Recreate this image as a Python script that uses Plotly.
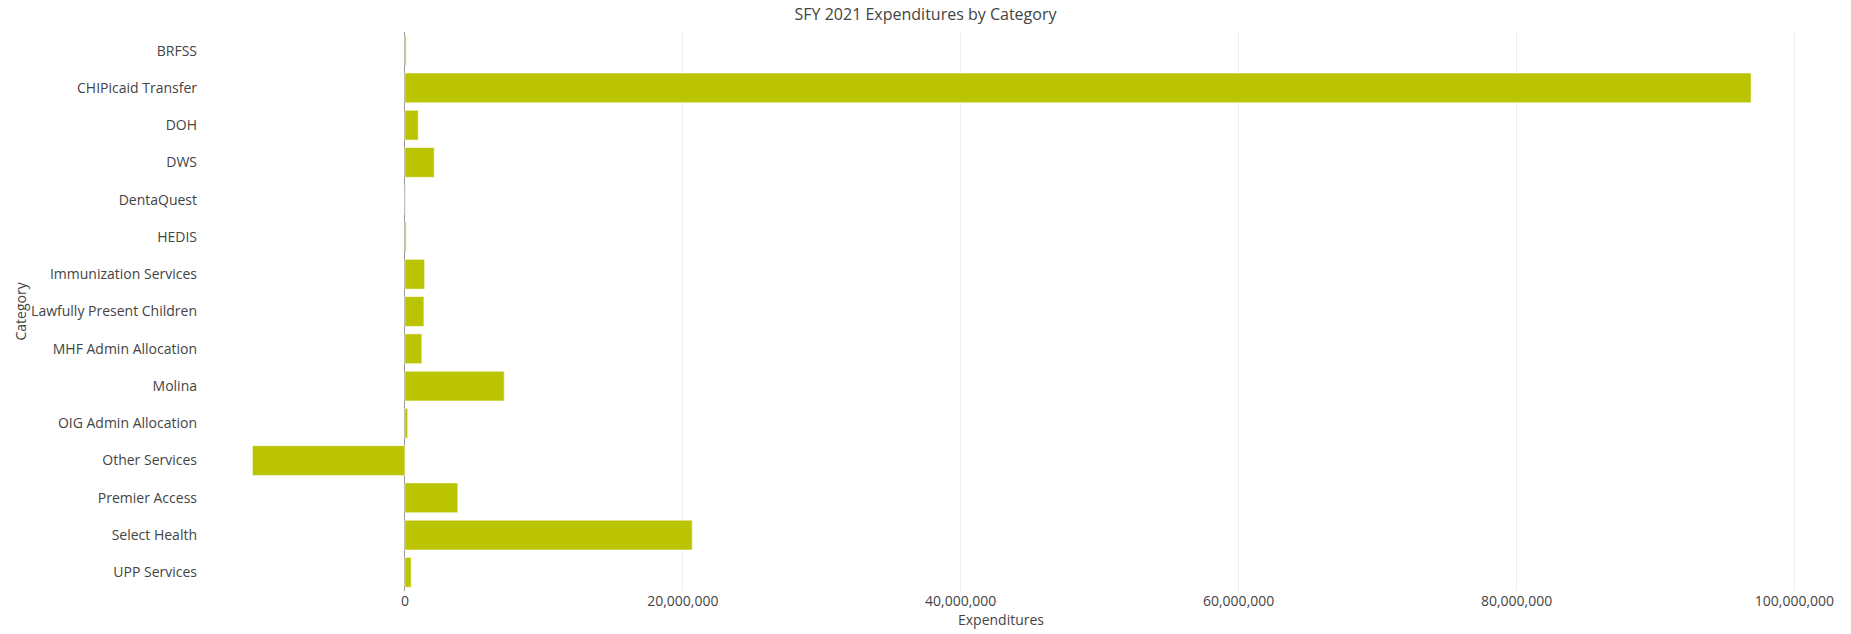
import plotly.graph_objects as go

categories = [
    "BRFSS", "CHIPicaid Transfer", "DOH", "DWS", "DentaQuest", "HEDIS",
    "Immunization Services", "Lawfully Present Children", "MHF Admin Allocation",
    "Molina", "OIG Admin Allocation", "Other Services", "Premier Access",
    "Select Health", "UPP Services",
]
expenditures = [
    100000, 96880000, 960000, 2110000, 40000, 100000,
    1420000, 1370000, 1220000,
    7150000, 200000, -10970000, 3810000,
    20680000, 450000,
]

fig = go.Figure(
    go.Bar(
        x=expenditures,
        y=categories,
        orientation="h",
        marker=dict(color="#BAC400", line=dict(color="rgba(255,255,255,0.55)", width=1)),
    )
)

L, R, T, B = 202, 51, 32, 43
W, H = 1851, 634

fig.update_layout(
    width=W,
    height=H,
    margin=dict(l=L, r=R, t=T, b=B),
    paper_bgcolor="white",
    plot_bgcolor="white",
    font=dict(family="Open Sans", color="#444", size=12),
    title=dict(
        text="SFY 2021 Expenditures by Category",
        x=0.5, xref="container", xanchor="center",
        y=1 - 14 / H, yref="container", yanchor="middle",
        font=dict(size=16, color="#444"),
        automargin=False,
    ),
    bargap=0.2,
    showlegend=False,
    annotations=[
        dict(
            text="Category", textangle=-90,
            xref="paper", yref="paper",
            x=(20 - L) / (W - L - R), y=0.5,
            xanchor="center", yanchor="middle",
            showarrow=False,
            font=dict(size=14, color="#444"),
        )
    ],
)

fig.update_xaxes(
    automargin=False,
    range=[-14.6e6, 100.4e6],
    tick0=0, dtick=20e6, tickformat=",",
    showgrid=True, gridcolor="#eeeeee", gridwidth=1,
    zeroline=True, zerolinecolor="#999999", zerolinewidth=1,
    showline=False, ticks="",
    ticklabelstandoff=0,
    tickfont=dict(size=14, color="#444"),
    title=dict(text="Expenditures", font=dict(size=14, color="#444"), standoff=6),
)
fig.update_yaxes(
    automargin=False,
    autorange="reversed",
    showgrid=False, showline=False, ticks="",
    ticklabelstandoff=4,
    tickfont=dict(size=14, color="#444"),
)

fig.write_html("out.html")
